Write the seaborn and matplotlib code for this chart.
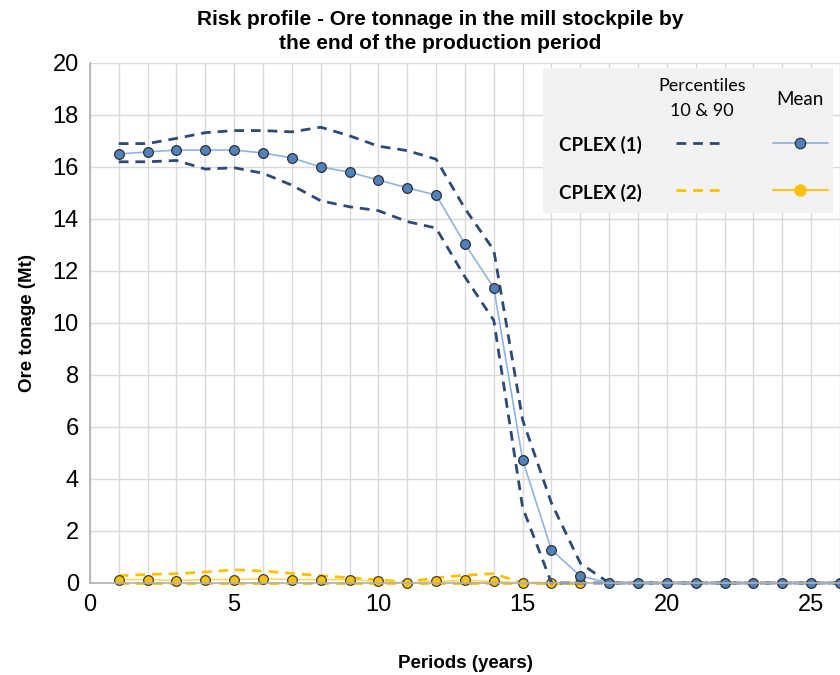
import matplotlib
matplotlib.use("Agg")
import matplotlib.pyplot as plt
import pandas as pd
import seaborn as sns
from matplotlib.lines import Line2D
from matplotlib.patches import Rectangle

# data
periods_1 = list(range(1, 27))
mean_1 = [16.5, 16.58, 16.65, 16.65, 16.65, 16.54, 16.35, 16.0, 15.8, 15.5, 15.2, 14.92,
          13.04, 11.35, 4.73, 1.27, 0.27, 0, 0, 0, 0, 0, 0, 0, 0, 0]
p90_1 = [16.9, 16.9, 17.1, 17.32, 17.4, 17.4, 17.35, 17.53, 17.2, 16.8, 16.63, 16.3,
         14.4, 12.8, 6.27, 3.07, 0.76, 0, 0, 0, 0, 0, 0, 0, 0, 0]
p10_1 = [16.2, 16.2, 16.25, 15.92, 15.97, 15.76, 15.3, 14.7, 14.47, 14.32, 13.9, 13.65,
         11.77, 10.1, 2.9, 0, 0, 0, 0, 0, 0, 0, 0, 0, 0, 0]

periods_2 = list(range(1, 18))
mean_2 = [0.13, 0.13, 0.09, 0.13, 0.13, 0.17, 0.13, 0.13, 0.13, 0.06, 0.0, 0.06,
          0.1, 0.06, 0, 0, 0]
p90_2 = [0.28, 0.33, 0.36, 0.42, 0.51, 0.46, 0.37, 0.28, 0.2, 0.12, 0.04, 0.2,
         0.3, 0.36, 0, 0, 0]
p10_2 = [0] * 17

NAVY = "#2b4a78"
LIGHT_BLUE = "#8db4e2"
BLUE = "#4f81bd"
YELLOW = "#ffc000"
LIGHT_YELLOW = "#ffd75e"

sns.set_style("white")
plt.rcParams["font.family"] = ["Liberation Sans", "DejaVu Sans"]
plt.rcParams["text.color"] = "black"
plt.rcParams["axes.labelcolor"] = "black"
plt.rcParams["xtick.color"] = "black"
plt.rcParams["ytick.color"] = "black"

df1 = pd.DataFrame({"period": periods_1, "mean": mean_1, "p90": p90_1, "p10": p10_1})
df2 = pd.DataFrame({"period": periods_2, "mean": mean_2, "p90": p90_2, "p10": p10_2})

fig = plt.figure(figsize=(8.4, 6.75), dpi=100)
ax = fig.add_axes([0.107, 0.1363, 0.893, 0.7704])

# CPLEX (2) first so CPLEX (1) sits on top
for col in ["p90", "p10"]:
    sns.lineplot(data=df2, x="period", y=col, ax=ax, color=YELLOW, lw=2,
                 linestyle=(0, (3.5, 2.5)), clip_on=False)
sns.lineplot(data=df2, x="period", y="mean", ax=ax, color=LIGHT_YELLOW, lw=1.2,
             marker="o", markersize=7, markerfacecolor=YELLOW, markeredgecolor="#404040",
             markeredgewidth=0.9, clip_on=False)

for col in ["p90", "p10"]:
    sns.lineplot(data=df1, x="period", y=col, ax=ax, color=NAVY, lw=2,
                 linestyle=(0, (3.5, 2.5)), clip_on=False)
sns.lineplot(data=df1, x="period", y="mean", ax=ax, color=LIGHT_BLUE, lw=1.2,
             marker="o", markersize=7, markerfacecolor=BLUE, markeredgecolor="#303030",
             markeredgewidth=0.9, clip_on=False)

ax.set_xlim(0, 26)
ax.set_ylim(0, 20)
ax.set_xticks(range(0, 26, 5))
ax.set_xticks(range(0, 27), minor=True)
ax.set_yticks(range(0, 21, 2))
ax.grid(True, which="both", axis="x", color="#d9d9d9", lw=1)
ax.grid(True, which="major", axis="y", color="#d9d9d9", lw=1)
ax.set_axisbelow(True)
for s in ["top", "right"]:
    ax.spines[s].set_visible(False)
for s in ["left", "bottom"]:
    ax.spines[s].set_color("#b0b0b0")
    ax.spines[s].set_linewidth(1.2)
ax.tick_params(axis="both", which="major", labelsize=17, length=5, color="#b0b0b0",
               direction="out", pad=3)
ax.tick_params(axis="both", which="minor", length=0)

ax.set_xlabel("Periods (years)", fontsize=13.5, fontweight="bold", labelpad=28)
ax.set_ylabel("Ore tonage (Mt)", fontsize=13.5, fontweight="bold", labelpad=12)
fig.suptitle("Risk profile - Ore tonnage in the mill stockpile by\nthe end of the production period",
             x=0.524, y=0.985, fontsize=15, fontweight="bold", linespacing=1.3,
             family=["Liberation Sans Narrow", "Liberation Sans", "DejaVu Sans"])

# custom table-style legend
leg_font = ["Lato", "DejaVu Sans"]
ax.add_patch(Rectangle((0.604, 0.7115), 0.387, 0.2785, transform=ax.transAxes,
                       facecolor="#f2f2f2", edgecolor="none", zorder=5, clip_on=False))
ax.text(0.816, 0.955, "Percentiles", transform=ax.transAxes, ha="center", va="center",
        fontsize=13, family=leg_font, zorder=6)
ax.text(0.816, 0.907, "10 & 90", transform=ax.transAxes, ha="center", va="center",
        fontsize=13, family=leg_font, zorder=6)
ax.text(0.947, 0.93, "Mean", transform=ax.transAxes, ha="center", va="center",
        fontsize=13.5, family=leg_font, zorder=6)
rows = [("CPLEX (1)", 0.842, NAVY, LIGHT_BLUE, BLUE, "#303030", 7.5),
        ("CPLEX (2)", 0.75, YELLOW, YELLOW, YELLOW, YELLOW, 8)]
for label, yy, dash_c, line_c, face_c, edge_c, ms in rows:
    ax.text(0.68, yy, label, transform=ax.transAxes, ha="center", va="center",
            fontsize=13.5, fontweight="bold", family=leg_font, zorder=6)
    ax.add_line(Line2D([0.781, 0.847], [yy + 0.005, yy + 0.005], transform=ax.transAxes,
                       color=dash_c, lw=2, linestyle=(0, (3.5, 2.5)), zorder=6))
    ax.add_line(Line2D([0.911, 0.984], [yy + 0.005, yy + 0.005], transform=ax.transAxes,
                       color=line_c, lw=1.3, zorder=6))
    ax.add_line(Line2D([0.947], [yy + 0.005], transform=ax.transAxes, marker="o",
                       markersize=ms, markerfacecolor=face_c, markeredgecolor=edge_c,
                       markeredgewidth=0.9, zorder=7))

fig.savefig("out.png", dpi=100)
